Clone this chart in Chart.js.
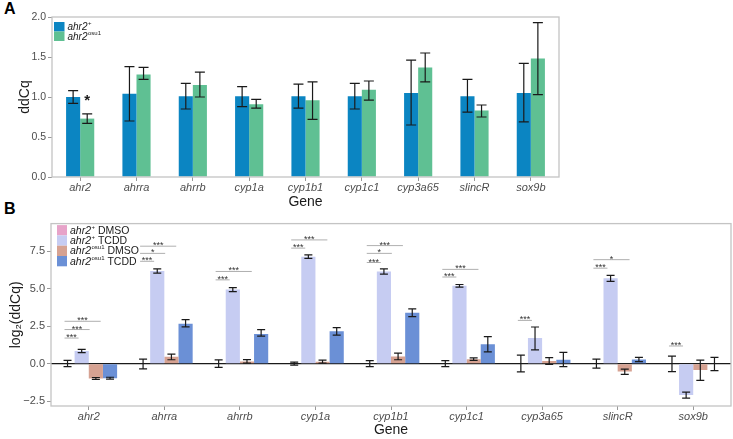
<!DOCTYPE html>
<html>
<head>
<meta charset="utf-8">
<script src="https://cdn.jsdelivr.net/npm/chart.js@4.4.0/dist/chart.umd.min.js"></script>
<style>
  body { margin: 0; background: #fff; width: 733px; height: 439px; overflow: hidden; font-family: "Liberation Sans", Arial, sans-serif; }
  #wa { position: absolute; left: 0; top: 0; width: 733px; height: 215px; }
  #wb { position: absolute; left: 0; top: 215px; width: 733px; height: 224px; }
  .tag { position: absolute; left: 4px; font-weight: bold; font-size: 16px; color: #000; }
</style>
</head>
<body>
<div class="tag" style="top:0px">A</div>
<div class="tag" style="top:200px">B</div>
<div id="wa"><canvas id="chartA"></canvas></div>
<div id="wb"><canvas id="chartB"></canvas></div>
<script>
const genes = ["ahr2", "ahrra", "ahrrb", "cyp1a", "cyp1b1", "cyp1c1", "cyp3a65", "slincR", "sox9b"];

/* ---- panel A: ddCq ---- */
const wtA    = [1.00, 1.04, 1.01, 1.01, 1.01, 1.01, 1.05, 1.01, 1.05];
const wtLoA  = [0.92, 0.70, 0.85, 0.88, 0.86, 0.85, 0.65, 0.81, 0.69];
const wtHiA  = [1.08, 1.38, 1.17, 1.13, 1.16, 1.17, 1.46, 1.22, 1.42];
const osuA   = [0.73, 1.28, 1.15, 0.91, 0.96, 1.09, 1.37, 0.83, 1.48];
const osuLoA = [0.67, 1.22, 1.00, 0.86, 0.72, 0.96, 1.19, 0.75, 1.03];
const osuHiA = [0.79, 1.37, 1.31, 0.97, 1.19, 1.20, 1.55, 0.90, 1.93];
const ticksA = [0, 0.5, 1, 1.5, 2];

/* ---- panel B: log2(ddCq) ---- */
const wtDmso    = [0, 0, 0, 0, 0, 0, 0, 0, 0];
const wtDmsoLo  = [-0.20, -0.35, -0.25, -0.10, -0.20, -0.20, -0.55, -0.30, -0.53];
const wtDmsoHi  = [0.22, 0.30, 0.25, 0.10, 0.20, 0.20, 0.57, 0.30, 0.50];
const wtTcdd    = [0.85, 6.20, 4.95, 7.15, 6.16, 5.20, 1.71, 5.70, -2.10];
const wtTcddLo  = [0.74, 6.05, 4.82, 7.03, 5.99, 5.11, 0.92, 5.50, -2.30];
const wtTcddHi  = [0.96, 6.34, 5.08, 7.27, 6.33, 5.29, 2.45, 5.90, -1.90];
const osuDmso   = [-1.00, 0.46, 0.15, 0.13, 0.48, 0.30, 0.18, -0.53, -0.42];
const osuDmsoLo = [-1.06, 0.26, 0.03, 0.03, 0.26, 0.22, -0.05, -0.72, -1.12];
const osuDmsoHi = [-0.94, 0.64, 0.27, 0.23, 0.70, 0.38, 0.40, -0.37, 0.24];
const osuTcdd   = [-0.97, 2.67, 1.99, 2.17, 3.40, 1.29, 0.26, 0.27, 0];
const osuTcddLo = [-1.03, 2.46, 1.84, 1.90, 3.14, 0.79, -0.20, 0.13, -0.46];
const osuTcddHi = [-0.91, 2.94, 2.28, 2.41, 3.66, 1.80, 0.75, 0.42, 0.42];
const ticksB = [-2.5, 0, 2.5, 5, 7.5];

// significance bars: gene index, compared group, height, label
const sigGene   = [0, 0, 0, 1, 1, 1, 2, 2, 3, 3, 4, 4, 4, 5, 5, 6, 7, 7, 8];
const sigTarget = [1, 2, 3, 1, 2, 3, 1, 3, 1, 3, 1, 2, 3, 1, 3, 1, 1, 3, 1];
const sigLevel  = [1.71, 2.28, 2.83, 6.84, 7.37, 7.85, 5.60, 6.16, 7.72, 8.27, 6.76, 7.37, 7.89, 5.79, 6.30, 2.89, 6.38, 6.95, 1.18];
const sigLabel  = ["***", "***", "***", "***", "*", "***", "***", "***", "***", "***", "***", "*", "***", "***", "***", "***", "***", "*", "***"];

const FONT = "'Liberation Sans', Arial, sans-serif";
Chart.defaults.font.family = FONT;
Chart.defaults.animation = false;

/* ================= PLUGINS ================= */

const errorBars = {
  id: "errorBars",
  afterDatasetsDraw(chart, args, opts) {
    const { ctx } = chart;
    const ys = chart.scales.y;
    ctx.save();
    ctx.strokeStyle = "#1a1a1a";
    ctx.lineWidth = 1.2;
    chart.data.datasets.forEach((ds, di) => {
      const meta = chart.getDatasetMeta(di);
      ds.errLo.forEach((lo, i) => {
        const x = meta.data[i].x;
        const y1 = ys.getPixelForValue(lo);
        const y2 = ys.getPixelForValue(ds.errHi[i]);
        const c = opts.cap;
        ctx.beginPath();
        ctx.moveTo(x, y1); ctx.lineTo(x, y2);
        ctx.moveTo(x - c, y1); ctx.lineTo(x + c, y1);
        ctx.moveTo(x - c, y2); ctx.lineTo(x + c, y2);
        ctx.stroke();
      });
    });
    ctx.restore();
  }
};

const frame = {
  id: "frame",
  beforeDatasetsDraw(chart, args, opts) {
    const { ctx, chartArea: a } = chart;
    if (opts.zero) {
      const y0 = chart.scales.y.getPixelForValue(0);
      ctx.save();
      ctx.strokeStyle = "#1a1a1a";
      ctx.lineWidth = 1.2;
      ctx.beginPath();
      ctx.moveTo(a.left, y0); ctx.lineTo(a.right, y0);
      ctx.stroke();
      ctx.restore();
    }
  },
  afterDraw(chart) {
    const { ctx, chartArea: a } = chart;
    ctx.save();
    ctx.strokeStyle = "#c4c4c4";
    ctx.lineWidth = 1.3;
    ctx.strokeRect(a.left, a.top, a.right - a.left, a.bottom - a.top);
    ctx.restore();
  }
};

// legend with italic gene name + superscript allele
const supLegend = {
  id: "supLegend",
  afterDraw(chart, args, opts) {
    const { ctx, chartArea: a } = chart;
    const fs = opts.fontSize;
    ctx.save();
    ctx.textBaseline = "middle";
    ctx.fillStyle = "#fff";
    ctx.fillRect(a.left + 2, a.top + 2, opts.width, opts.items.length * opts.row + 6);
    opts.items.forEach((it, i) => {
      const top = a.top + opts.dy + i * opts.row;
      const x = a.left + opts.dx;
      ctx.fillStyle = it.color;
      ctx.fillRect(x, top, opts.box, opts.row);
      const cy = top + opts.row / 2 + 0.5;
      let tx = x + opts.box + 3;
      ctx.fillStyle = "#1a1a1a";
      ctx.font = "italic " + fs + "px " + FONT;
      ctx.fillText(it.name, tx, cy);
      tx += ctx.measureText(it.name).width + 0.5;
      ctx.font = Math.round(fs * 0.6) + "px " + FONT;
      ctx.fillText(it.sup, tx, cy - fs * 0.35);
      tx += ctx.measureText(it.sup).width;
      if (it.rest) {
        ctx.font = fs + "px " + FONT;
        ctx.fillText(it.rest, tx, cy);
      }
    });
    ctx.restore();
  }
};

const sigMarks = {
  id: "sigMarks",
  afterDraw(chart, args, opts) {
    const { ctx } = chart;
    const ys = chart.scales.y;
    ctx.save();
    ctx.textAlign = "center";
    ctx.textBaseline = "alphabetic";
    opts.gene.forEach((g, k) => {
      const xs = chart.getDatasetMeta(0).data[g].x;
      const xt = chart.getDatasetMeta(opts.target[k]).data[g].x;
      const y = ys.getPixelForValue(opts.level[k]);
      const x1 = xs - 3, x2 = xs + (xt - xs) * 0.78;
      ctx.strokeStyle = "#9a9a9a";
      ctx.lineWidth = 0.8;
      ctx.beginPath();
      ctx.moveTo(x1, y); ctx.lineTo(x2, y);
      ctx.stroke();
      ctx.fillStyle = "#333";
      ctx.font = "9px " + FONT;
      ctx.fillText(opts.label[k], (x1 + x2) / 2, y + 2);
    });
    ctx.restore();
  }
};

const starA = {
  id: "starA",
  afterDraw(chart) {
    const { ctx } = chart;
    const x = chart.getDatasetMeta(1).data[0].x;
    const y = chart.scales.y.getPixelForValue(1.0);
    ctx.save();
    ctx.textAlign = "center";
    ctx.fillStyle = "#1a1a1a";
    ctx.font = "bold 15px " + FONT;
    ctx.fillText("*", x, y + 8);
    ctx.restore();
  }
};

function xAxis(h, titlePad) {
  return {
    afterFit: s => { s.height = h; },
    ticks: { color: "#4d4d4d", font: { size: 11, style: "italic" }, padding: 0 },
    grid: { display: true, drawOnChartArea: false, tickLength: 4, color: "#999", offset: false },
    border: { display: false },
    title: { display: true, text: "Gene", color: "#1a1a1a", font: { size: 14 }, padding: { top: 0, bottom: titlePad } }
  };
}

/* ================= PANEL A ================= */

new Chart(document.getElementById("chartA"), {
  type: "bar",
  data: {
    labels: genes,
    datasets: [
      { label: "ahr2+", data: wtA, errLo: wtLoA, errHi: wtHiA, backgroundColor: "#0b85c2" },
      { label: "ahr2osu1", data: osuA, errLo: osuLoA, errHi: osuHiA, backgroundColor: "#5fc093" }
    ]
  },
  options: {
    responsive: true,
    maintainAspectRatio: false,
    layout: { padding: { top: 17, right: 174, left: 0, bottom: 0 } },
    datasets: { bar: { categoryPercentage: 0.5, barPercentage: 1, borderWidth: 0 } },
    plugins: {
      legend: { display: false },
      tooltip: { enabled: false },
      errorBars: { cap: 5 },
      supLegend: {
        fontSize: 10, box: 10.5, row: 9.5, dx: 2, dy: 5, width: 50,
        items: [
          { color: "#0b85c2", name: "ahr2", sup: "+" },
          { color: "#5fc093", name: "ahr2", sup: "osu1" }
        ]
      }
    },
    scales: {
      x: xAxis(38, 4),
      y: {
        min: 0, max: 2,
        afterFit: s => { s.width = 52; },
        afterBuildTicks: s => { s.ticks = ticksA.map(v => ({ value: v })); },
        ticks: { color: "#4d4d4d", font: { size: 10.5 }, padding: 2, callback: v => v.toFixed(1) },
        grid: { display: true, drawOnChartArea: false, tickLength: 4, color: "#999" },
        border: { display: false },
        title: { display: true, text: "ddCq", color: "#1a1a1a", font: { size: 14 }, padding: { top: 17, bottom: 0 } }
      }
    }
  },
  plugins: [frame, errorBars, supLegend, starA]
});

/* ================= PANEL B ================= */

new Chart(document.getElementById("chartB"), {
  type: "bar",
  data: {
    labels: genes,
    datasets: [
      { label: "ahr2+ DMSO", data: wtDmso, errLo: wtDmsoLo, errHi: wtDmsoHi, backgroundColor: "#e7a3c9" },
      { label: "ahr2+ TCDD", data: wtTcdd, errLo: wtTcddLo, errHi: wtTcddHi, backgroundColor: "#c6ccf2" },
      { label: "ahr2osu1 DMSO", data: osuDmso, errLo: osuDmsoLo, errHi: osuDmsoHi, backgroundColor: "#d6a292" },
      { label: "ahr2osu1 TCDD", data: osuTcdd, errLo: osuTcddLo, errHi: osuTcddHi, backgroundColor: "#6b90d6" }
    ]
  },
  options: {
    responsive: true,
    maintainAspectRatio: false,
    layout: { padding: { top: 6, right: 2, left: 0, bottom: 0 } },
    datasets: { bar: { categoryPercentage: 0.75, barPercentage: 1, borderWidth: 0 } },
    plugins: {
      legend: { display: false },
      tooltip: { enabled: false },
      frame: { zero: true },
      errorBars: { cap: 4 },
      sigMarks: { gene: sigGene, target: sigTarget, level: sigLevel, label: sigLabel },
      supLegend: {
        fontSize: 10.5, box: 10, row: 10.3, dx: 6, dy: 1.5, width: 84,
        items: [
          { color: "#e7a3c9", name: "ahr2", sup: "+", rest: " DMSO" },
          { color: "#c6ccf2", name: "ahr2", sup: "+", rest: " TCDD" },
          { color: "#d6a292", name: "ahr2", sup: "osu1", rest: " DMSO" },
          { color: "#6b90d6", name: "ahr2", sup: "osu1", rest: " TCDD" }
        ]
      }
    },
    scales: {
      x: xAxis(33, 0),
      y: {
        min: -2.83, max: 9.36,
        afterFit: s => { s.width = 51; },
        afterBuildTicks: s => { s.ticks = ticksB.map(v => ({ value: v })); },
        ticks: { color: "#4d4d4d", font: { size: 11 }, padding: 2, callback: v => (v < 0 ? "\u2212" : "") + Math.abs(v).toFixed(1) },
        grid: { display: true, drawOnChartArea: false, tickLength: 4, color: "#999" },
        border: { display: false },
        title: { display: true, text: "log\u2082(ddCq)", color: "#1a1a1a", font: { size: 14 }, padding: { top: 8, bottom: 0 } }
      }
    }
  },
  plugins: [frame, errorBars, sigMarks, supLegend]
});
</script>
</body>
</html>
